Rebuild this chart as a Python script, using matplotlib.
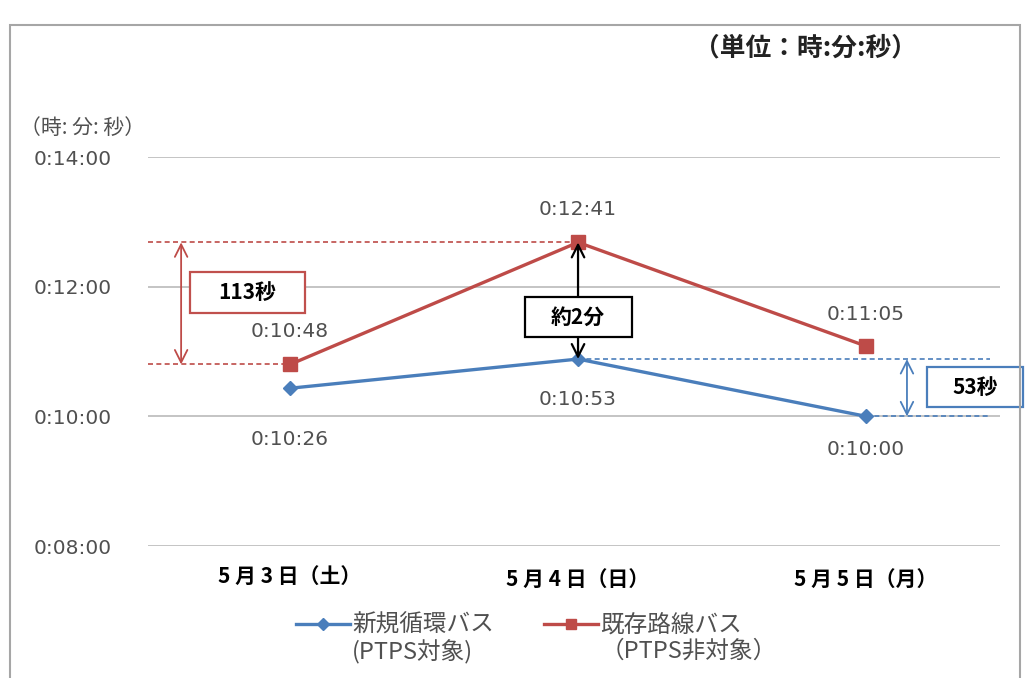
import matplotlib
matplotlib.use("Agg")
import matplotlib.pyplot as plt
from matplotlib.lines import Line2D
from matplotlib.patches import Rectangle
import numpy as np

plt.rcParams['font.family'] = ['DejaVu Sans', 'Noto Sans CJK JP']

# travel times in seconds
days = ['5 月 3 日（土）', '5 月 4 日（日）', '5 月 5 日（月）']
new_loop = [626, 653, 600]        # 新規循環バス (PTPS対象)
existing = [648, 761, 665]        # 既存路線バス (PTPS非対象)
yticks = [480, 600, 720, 840]
series_names = [('新規循環バス', '(PTPS対象)'), ('既存路線バス', '（PTPS非対象）')]

BLUE = '#4a7ebb'
RED = '#be4b48'
GRAY = '#505050'
CJK = ['Noto Sans CJK JP', 'DejaVu Sans']
PX_PER_DAY = 288


def hms(s):
    s = int(round(s))
    return '%d:%02d:%02d' % (s // 3600, s % 3600 // 60, s % 60)


fig = plt.figure(figsize=(10.25, 6.78), dpi=100)

# outer frame
fig.patches.append(Rectangle((10 / 1025, -0.01), 1010 / 1025, 1 - 25 / 678 + 0.01,
                             transform=fig.transFigure, fill=False,
                             edgecolor='#a6a6a6', lw=1.5))

ax = fig.add_axes([148 / 1025, 1 - 546 / 678, 852 / 1025, 389 / 678])
x = np.arange(len(days))

ax.set_xlim(-0.493, 2.465)
ax.set_ylim(480, 840)
ax.set_yticks(yticks)
ax.set_yticklabels([hms(v) for v in yticks], fontsize=14.5, color=GRAY)
ax.set_xticks([])
ax.tick_params(axis='y', length=0, pad=26)
ax.grid(axis='y', color='#bfbfbf', lw=1.3)
ax.set_axisbelow(True)
for sp in ax.spines.values():
    sp.set_visible(False)

l_blue, = ax.plot(x, new_loop, color=BLUE, lw=2.4, marker='D', ms=7.5, zorder=5)
l_red, = ax.plot(x, existing, color=RED, lw=2.4, marker='s', ms=10, zorder=5)

# day labels under the plot area
for i, d in enumerate(days):
    dy = -22 if i == 0 else -24
    ax.annotate(d, (i, 480), xytext=(0, dy), textcoords='offset points',
                ha='center', va='center', fontsize=15, fontweight='bold',
                family=CJK, color='black', annotation_clip=False)

# value labels
offsets = {('r', 0): (0, 24), ('b', 0): (0, -37),
           ('r', 1): (0, 24), ('b', 1): (0, -29),
           ('r', 2): (0, 23), ('b', 2): (0, -24)}
for i in x:
    for key, vals in (('r', existing), ('b', new_loop)):
        dx, dy = offsets[(key, i)]
        ax.annotate(hms(vals[i]), (i, vals[i]), xytext=(dx, dy),
                    textcoords='offset points', ha='center', va='center',
                    fontsize=14.5, color=GRAY)

# reference dashed lines
x_left = ax.get_xlim()[0]
dash = dict(ls=(0, (3, 2)), lw=1.2, zorder=3)
ax.plot([x_left, 1], [existing[1]] * 2, color=RED, **dash)
ax.plot([x_left, 0], [existing[0]] * 2, color=RED, **dash)
ax.plot([1, 2.43], [new_loop[1]] * 2, color=BLUE, **dash)
ax.plot([2, 2.43], [new_loop[2]] * 2, color=BLUE, **dash)


def double_arrow(xpos, y0, y1, color, lw):
    ax.annotate('', xy=(xpos, y1), xytext=(xpos, y0),
                arrowprops=dict(arrowstyle='<->,head_length=0.9,head_width=0.45',
                                color=color, lw=lw, shrinkA=0, shrinkB=0),
                zorder=6)


def label_box(xc, yc, w_px, h_px, text, edge):
    w = w_px / PX_PER_DAY
    h = h_px * 360 / 389
    ax.add_patch(Rectangle((xc - w / 2, yc - h / 2), w, h, facecolor='white',
                           edgecolor=edge, lw=1.6, zorder=7, clip_on=False))
    ax.text(xc, yc, text, ha='center', va='center', fontsize=15,
            fontweight='bold', family=CJK, zorder=8)


double_arrow(-0.378, existing[0], existing[1], RED, 1.3)
label_box(-0.149, 715, 115, 41, '113秒', '#c0504d')

double_arrow(1, new_loop[1], existing[1], 'black', 1.6)
label_box(1, 692, 107, 40, '約2分', 'black')

double_arrow(2.142, new_loop[2], new_loop[1], BLUE, 1.3)
label_box(2.378, 627, 96, 40, '53秒', BLUE)

# legend: handle on the first line, second line without a marker
blank = Line2D([], [], alpha=0)
leg = fig.legend(handles=[l_blue, blank, l_red, blank],
                 labels=[series_names[0][0], series_names[0][1],
                         series_names[1][0], series_names[1][1]],
                 loc='center', ncol=2, frameon=False,
                 bbox_to_anchor=(536 / 1025, 1 - 639 / 678),
                 prop={'family': CJK, 'size': 17}, labelcolor=GRAY,
                 handlelength=2.3, handletextpad=0.1, columnspacing=2.1,
                 labelspacing=0.1, markerscale=0.75)

fig.text(145 / 1025, 1 - 128 / 678, '（時: 分: 秒）', ha='right', va='center',
         fontsize=15, color=GRAY, family=CJK)
fig.text(917 / 1025, 1 - 48 / 678, '（単位：時:分:秒）', ha='right', va='center',
         fontsize=18.5, fontweight='bold', color='#222222', family=CJK)

fig.savefig('out.png', dpi=100)
